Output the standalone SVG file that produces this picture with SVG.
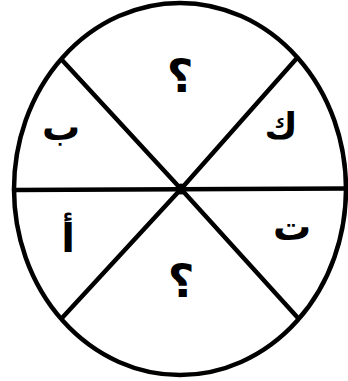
<svg xmlns="http://www.w3.org/2000/svg" width="348" height="381" viewBox="0 0 348 381">
<style>
.ln{stroke:#000;stroke-width:4.5;fill:none;stroke-linecap:round}
.lb{font-family:"DejaVu Sans",sans-serif;font-weight:bold;fill:#000;text-anchor:middle}
.q{font-size:46px}
</style>
<rect width="348" height="381" fill="#fff"/>
<g id="connectors">
<ellipse class="ln" cx="180" cy="189" rx="166" ry="186" stroke-width="4"/>
<path class="ln" d="M14 190 L346 188.5"/>
<path class="ln" d="M62 60 L181 189 L298 318"/>
<path class="ln" d="M297 58 L181 189 L62 318"/>
<circle cx="181" cy="189" r="5.5" fill="#000"/>
</g>
<g id="top"><text class="lb q" x="180" y="92">؟</text></g>
<g id="kaf"><text class="lb" x="281" y="138" font-size="36">ك</text></g>
<g id="ba"><text class="lb" x="61" y="140" font-size="38">ب</text></g>
<g id="alif"><text class="lb" x="68" y="252" font-size="40">أ</text></g>
<g id="ta"><text class="lb" x="292" y="240" font-size="38">ت</text></g>
<g id="bottom"><text class="lb q" x="181" y="297">؟</text></g>
</svg>
